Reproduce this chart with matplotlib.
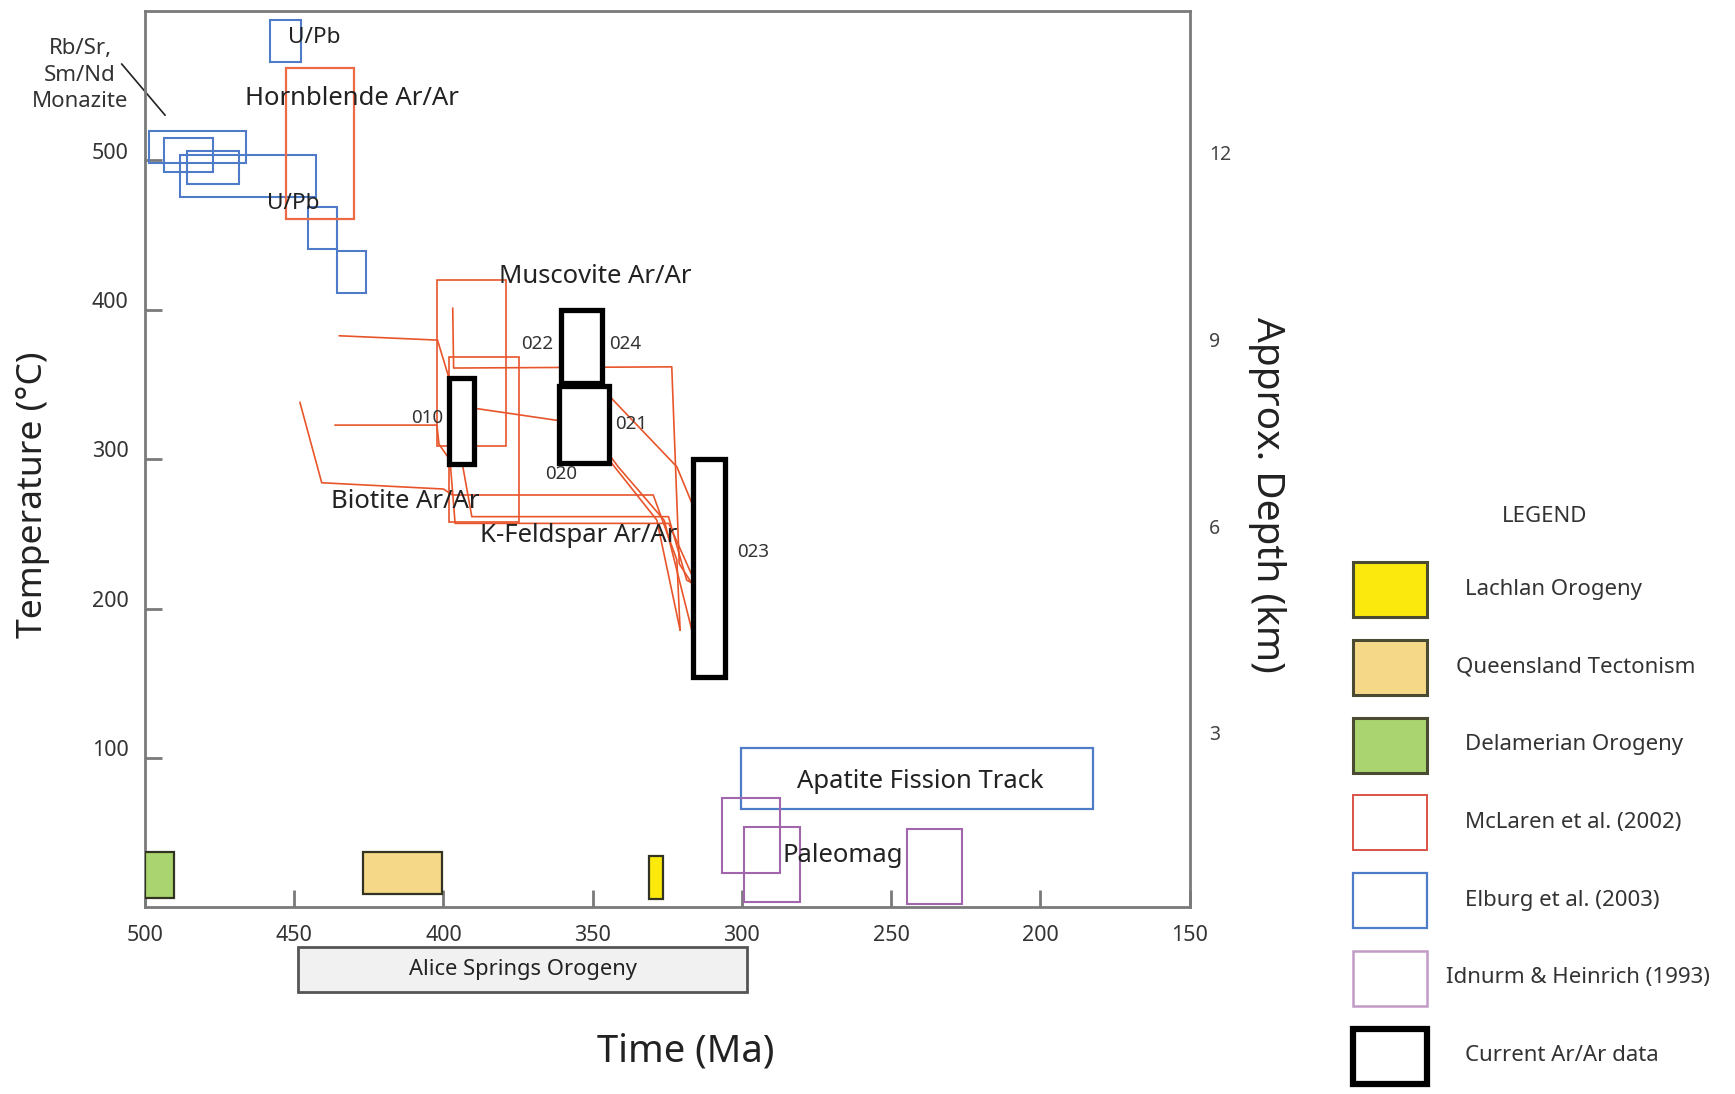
import matplotlib
matplotlib.use("Agg")
import matplotlib.pyplot as plt
from matplotlib.patches import Rectangle
from matplotlib.transforms import ScaledTranslation

plt.rcParams['font.family'] = ['Noto Sans', 'DejaVu Sans']

# ---- data: boxes are (age_old, age_young, T_low, T_high) in Ma / degC ----
elburg_boxes = [
    (458.2, 447.9, 565.6, 593.9),
    (498.8, 466.2, 498.0, 519.8),
    (493.8, 477.2, 492.4, 514.9),
    (485.8, 468.6, 484.0, 506.2),
    (488.3, 442.8, 475.2, 503.5),
    (445.4, 435.7, 441.0, 469.0),
    (435.7, 425.9, 411.4, 439.2),
]
apatite_box = (300.4, 182.4, 65.6, 106.4)
hornblende_box = (452.6, 429.9, 460.8, 561.8)
muscovite_boxes = [
    (402.0, 379.1, 308.8, 419.9),
    (398.0, 374.8, 258.1, 368.5),
]
# McLaren et al. cooling paths, (age, T) vertices
mclaren_paths = [
    [(448.1, 338.0), (440.8, 284.2), (400.0, 280.0), (397.0, 276.0),
     (329.7, 276.0), (321.8, 232.6), (320.7, 185.6)],
    [(434.9, 382.6), (402.0, 379.7), (398.4, 356.0), (393.9, 299.4),
     (390.5, 261.5), (324.6, 261.5), (318.5, 219.0), (316.5, 216.9)],
    [(436.3, 322.8), (402.2, 322.8), (401.5, 310.0), (397.8, 299.4),
     (396.1, 257.0), (324.5, 257.0), (316.5, 221.3)],
    [(396.9, 401.0), (396.6, 361.0), (323.5, 361.8), (321.0, 230.0),
     (316.8, 216.9)],
    [(389.4, 334.0), (362.0, 326.0), (344.2, 341.8), (321.8, 294.9),
     (316.5, 269.3)],
    [(352.0, 320.0), (343.6, 297.2), (328.5, 259.2), (320.7, 185.6)],
    [(350.0, 318.0), (341.5, 295.0), (326.0, 259.0), (316.5, 183.4)],
]
idnurm_boxes = [
    (306.7, 287.2, 22.9, 73.4),
    (299.4, 280.4, 3.2, 53.8),
    (244.8, 226.3, 2.5, 52.5),
]
current_boxes = [
    (398.1, 389.9, 297.0, 354.0),
    (360.6, 346.8, 351.0, 400.0),
    (361.3, 344.6, 297.7, 349.0),
    (316.5, 305.7, 154.0, 300.0),
]
sample_names = ["010", "022", "024", "020", "021", "023"]
sample_age = [410.7, 374.0, 344.6, 365.8, 342.5, 301.6]
sample_temp = [327.5, 377.0, 377.0, 290.0, 323.6, 237.8]

delamerian_box = (499.9, 490.4, 6.0, 36.8)
queensland_box = (427.0, 400.4, 8.7, 37.2)
lachlan_box = (331.2, 326.5, 5.4, 34.5)
alice_springs = (448.6, 298.4)

x_ticks = [500, 450, 400, 350, 300, 250, 200, 150]
y_ticks = [100, 200, 300, 400, 500]
depth_labels = ["12", "9", "6", "3"]
depth_temp = [505.2, 380.0, 254.8, 117.0]

legend_labels = ["Lachlan Orogeny", "Queensland Tectonism", "Delamerian Orogeny",
                 "McLaren et al. (2002)", "Elburg et al. (2003)",
                 "Idnurm & Heinrich (1993)", "Current Ar/Ar data"]

# ---- colours ----
BLUE = "#4f7cc9"
RED = "#e8552b"
PURPLE = "#a266ad"
GREEN = "#a9d46f"
TAN = "#f6d889"
YELLOW = "#fbe90e"
EDGE = "#4b4a32"
AXC = "#7a7a7a"


def box(ax, b, **kw):
    x0, x1, y0, y1 = b
    r = Rectangle((min(x0, x1), y0), abs(x1 - x0), y1 - y0, **kw)
    ax.add_patch(r)
    return r


fig = plt.figure(figsize=(17.35, 10.94), dpi=100)
ax = fig.add_axes([0.0836, 0.1707, 0.6020, 0.8192])
ax.set_xlim(500, 150)
ax.set_ylim(0, 600)

for s in ax.spines.values():
    s.set_color(AXC)
    s.set_linewidth(2.0)

ax.set_xticks(x_ticks)
ax.set_yticks(y_ticks)
ax.tick_params(direction="in", length=12, width=2, color=AXC,
               labelsize=15.5, labelcolor="#333333", right=True)
ax.tick_params(axis="x", pad=13)
ax.tick_params(axis="y", pad=12)
for lab in ax.get_yticklabels():
    lab.set_transform(lab.get_transform() + ScaledTranslation(0, 7 / 72, fig.dpi_scale_trans))

# depth scale on the right
ax2 = ax.twinx()
ax2.set_ylim(0, 600)
ax2.set_yticks(depth_temp)
ax2.set_yticklabels(depth_labels)
ax2.tick_params(length=0, labelsize=14, labelcolor="#444444", pad=14)
for s in ax2.spines.values():
    s.set_visible(False)

# Elburg et al. boxes
for b in elburg_boxes:
    box(ax, b, fill=False, ec=BLUE, lw=1.5, zorder=2)
box(ax, apatite_box, fill=False, ec=BLUE, lw=1.6, zorder=2)

# McLaren et al.
box(ax, hornblende_box, fill=False, ec="#ec6a45", lw=1.6, zorder=2)
for b in muscovite_boxes:
    box(ax, b, fill=False, ec=RED, lw=1.2, zorder=2)
for p in mclaren_paths:
    ax.plot([v[0] for v in p], [v[1] for v in p], color=RED, lw=1.2, zorder=2)

# Idnurm & Heinrich
for b in idnurm_boxes:
    box(ax, b, fill=False, ec=PURPLE, lw=1.5, zorder=2)

# new Ar/Ar results
for b in current_boxes:
    box(ax, b, fc="white", ec="black", lw=3.8, zorder=4)
for name, a, t in zip(sample_names, sample_age, sample_temp):
    ax.text(a, t, name, fontsize=13.5, color="#333333", va="center", ha="left", zorder=6)

# orogenic events along the base
box(ax, delamerian_box, fc=GREEN, ec="#333322", lw=1.6, zorder=3)
box(ax, queensland_box, fc=TAN, ec="#333322", lw=1.6, zorder=3)
box(ax, lachlan_box, fc=YELLOW, ec="#333322", lw=1.6, zorder=3)

# Alice Springs Orogeny bar under the time axis
r = box(ax, (alice_springs[0], alice_springs[1], -56.5, -26.8),
        fc="#f1f1f1", ec="#555555", lw=2, zorder=3)
r.set_clip_on(False)
ax.text(sum(alice_springs) / 2, -41.5, "Alice Springs Orogeny", fontsize=15.8,
        ha="center", va="center", color="#222222", clip_on=False)

# mineral / method labels
lab_kw = dict(fontsize=18.5, color="#222222", va="center", ha="left", zorder=6)
ax.text(452.1, 582.5, "U/Pb", **{**lab_kw, "fontsize": 16.3})
ax.text(466.4, 541.4, "Hornblende Ar/Ar", **lab_kw)
ax.text(459.2, 471.0, "U/Pb", **{**lab_kw, "fontsize": 16.3})
ax.text(381.4, 422.0, "Muscovite Ar/Ar", **lab_kw)
ax.text(437.7, 271.8, "Biotite Ar/Ar", **lab_kw)
ax.text(387.7, 248.9, "K-Feldspar Ar/Ar", **lab_kw)
ax.text(240.3, 84.5, "Apatite Fission Track", **{**lab_kw, "ha": "center"})
ax.text(286.4, 34.8, "Paleomag", **lab_kw)

# Rb/Sr, Sm/Nd pointer
ax.plot([507.8, 493.3], [564.5, 530.3], color="#222222", lw=1.2, clip_on=False)
ax.text(521.8, 557.0, "Rb/Sr,\nSm/Nd\nMonazite", fontsize=16, color="#333333",
        ha="center", va="center", linespacing=1.35, clip_on=False)

# axis titles
fig.text(0.019, 0.548, "Temperature (\u00b0C)", rotation=90, fontsize=25.5,
         ha="center", va="center", color="#222222")
fig.text(0.3954, 0.039, "Time (Ma)", fontsize=27.5, ha="center", va="center",
         color="#222222")
fig.text(0.730, 0.548, "Approx. Depth (km)", rotation=270, fontsize=28,
         ha="center", va="center", color="#222222")

# legend panel
lax = fig.add_axes([0, 0, 1, 1], facecolor="none")
lax.set_xlim(0, 1735)
lax.set_ylim(1094, 0)
lax.axis("off")
lax.text(1545, 517, "LEGEND", fontsize=16, ha="center", va="center", color="#333333")
leg_face = [YELLOW, TAN, GREEN, "white", "white", "white", "white"]
leg_edge = [EDGE, EDGE, EDGE, "#d9534a", BLUE, "#c29ac6", "black"]
leg_lw = [2.2, 2.2, 2.2, 1.4, 1.6, 1.8, 4.5]
leg_text_x = [1465, 1456, 1465, 1465, 1465, 1446, 1465]
for i, lab in enumerate(legend_labels):
    top = 562 + i * 77.8
    lax.add_patch(Rectangle((1353, top), 74, 55, fc=leg_face[i], ec=leg_edge[i], lw=leg_lw[i]))
    lax.text(leg_text_x[i], top + 27, lab, fontsize=16, ha="left", va="center", color="#333333")

fig.savefig("out.png", dpi=100, facecolor="white")
